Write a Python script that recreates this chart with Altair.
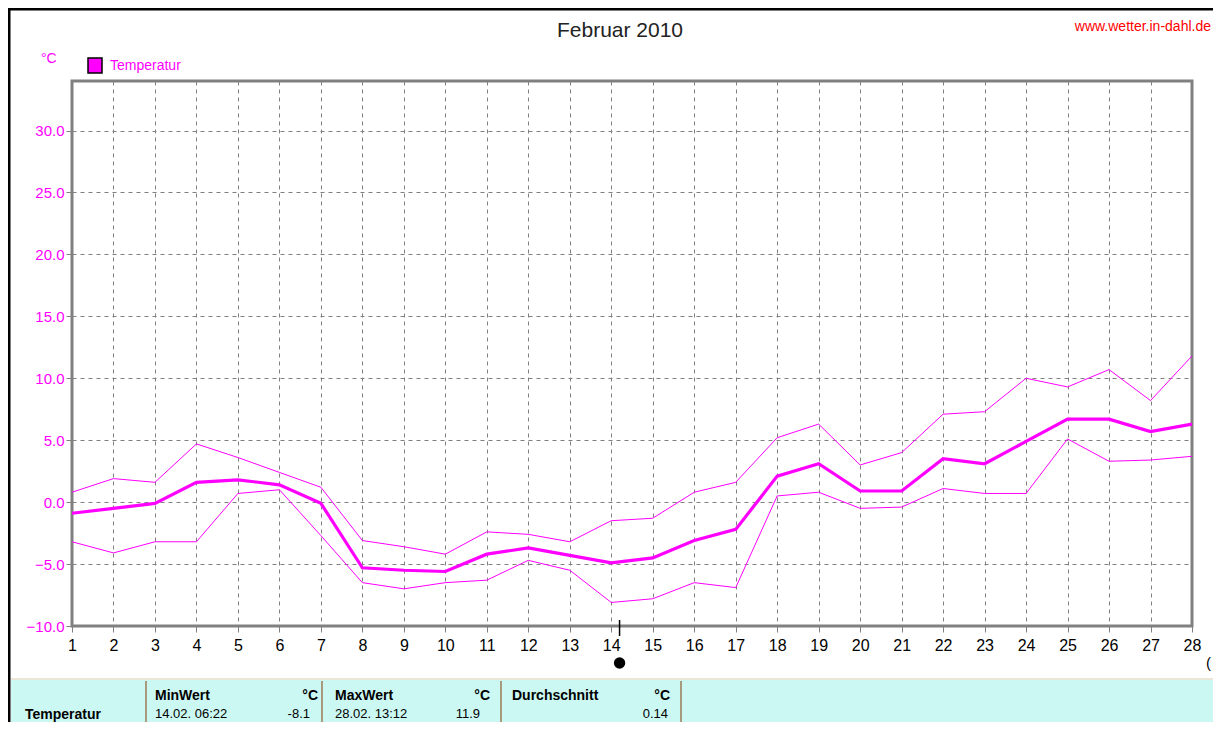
import altair as alt
import pandas as pd

# ---- data ----
days = list(range(1, 29))
t_max = [0.8, 1.9, 1.6, 4.7, 3.6, 2.4, 1.2, -3.1, -3.6, -4.2, -2.4, -2.6, -3.2, -1.5,
         -1.3, 0.8, 1.6, 5.2, 6.3, 3.0, 4.0, 7.1, 7.3, 10.0, 9.3, 10.7, 8.2, 11.8]
t_mean = [-0.9, -0.5, -0.1, 1.6, 1.8, 1.4, -0.1, -5.3, -5.5, -5.6, -4.2, -3.7, -4.3, -4.9,
          -4.5, -3.1, -2.2, 2.1, 3.1, 0.9, 0.9, 3.5, 3.1, 4.9, 6.7, 6.7, 5.7, 6.3]
t_min = [-3.2, -4.1, -3.2, -3.2, 0.7, 1.0, -2.7, -6.5, -7.0, -6.5, -6.3, -4.7, -5.5, -8.1,
         -7.8, -6.5, -6.9, 0.5, 0.8, -0.5, -0.4, 1.1, 0.7, 0.7, 5.1, 3.3, 3.4, 3.7]
y_ticks = [-10, -5, 0, 5, 10, 15, 20, 25, 30]
x_ticks = days
min_marker_day = [14.2]

table_headers = ["MinWert", "MaxWert", "Durchschnitt"]
table_units = ["°C", "°C", "°C"]
table_times = ["14.02.  06:22", "28.02.  13:12", ""]
table_values = ["-8.1", "11.9", "0.14"]
row_label = "Temperatur"

title_text = "Februar 2010"
url_text = "www.wetter.in-dahl.de"
legend_label = "Temperatur"
unit_label = "°C"

MAG = "#FF00FF"
W, H = 1120, 545
FONT = "Liberation Sans"

df = pd.DataFrame({"day": days, "max": t_max, "mean": t_mean, "min": t_min})

xs = alt.Scale(domain=[1, 28], nice=False, zero=False)
ys = alt.Scale(domain=[-10, 34], nice=False, zero=False)

xax = alt.Axis(values=x_ticks, format="d", grid=True, gridDash=[4, 4], gridColor="#808080",
               gridWidth=1, domain=False, tickColor="#808080", tickSize=6, labelColor="black",
               labelFontSize=16, labelFont=FONT, labelPadding=5, title=None, labelFlush=False)
yax = alt.Axis(values=y_ticks, format=".1f", grid=True, gridDash=[4, 4], gridColor="#808080",
               gridWidth=1, domain=False, tickColor="#808080", tickSize=6, labelColor=MAG,
               labelFontSize=15, labelFont=FONT, labelPadding=2, title=None)

base = alt.Chart(df)
grid = base.mark_line(opacity=0).encode(
    x=alt.X("day:Q", scale=xs, axis=xax),
    y=alt.Y("mean:Q", scale=ys, axis=yax))
l_max = base.mark_line(color=MAG, strokeWidth=1).encode(x=alt.X("day:Q", scale=xs), y=alt.Y("max:Q", scale=ys))
l_min = base.mark_line(color=MAG, strokeWidth=1).encode(x=alt.X("day:Q", scale=xs), y=alt.Y("min:Q", scale=ys))
l_mean = base.mark_line(color=MAG, strokeWidth=3.2).encode(x=alt.X("day:Q", scale=xs), y=alt.Y("mean:Q", scale=ys))

one = pd.DataFrame({"a": [0]})
def txt(text, x, y, size=14, color="black", align="left", weight="normal", font=FONT, baseline="middle"):
    return alt.Chart(one).mark_text(text=text, fontSize=size, color=color, align=align,
                                    fontWeight=weight, font=font, baseline=baseline).encode(
        x=alt.value(x), y=alt.value(y))

def rect(x, x2, y, y2, fill, stroke=None, sw=0):
    kw = dict(fill=fill)
    if stroke:
        kw.update(stroke=stroke, strokeWidth=sw)
    else:
        kw.update(strokeWidth=0)
    return alt.Chart(one).mark_rect(**kw).encode(
        x=alt.value(x), x2=alt.value(x2), y=alt.value(y), y2=alt.value(y2))

def rule(x, x2, y, y2, color, sw):
    return alt.Chart(one).mark_rule(color=color, strokeWidth=sw).encode(
        x=alt.value(x), x2=alt.value(x2), y=alt.value(y), y2=alt.value(y2))

layers = [grid, l_max, l_min, l_mean]

# outer black frame (left and top)
layers.append(rule(-63, -63, -73, 660, "black", 3))
layers.append(rule(-64, 1150, -72, -72, "black", 3))

# header texts
layers.append(txt(title_text, 548, -50, size=21, color="#222222", align="center"))
layers.append(txt(url_text, 1139, -54, size=14, color="#FF0000", align="right"))
layers.append(txt(unit_label, -31, -22, size=14, color=MAG))
layers.append(rect(16, 30, -23, -8, MAG, "black", 1.5))
layers.append(txt(legend_label, 38, -15, size=14, color=MAG))

# marker for min date
mk = pd.DataFrame({"d": min_marker_day})
layers.append(alt.Chart(mk).mark_rule(color="black", strokeWidth=1.5).encode(
    x=alt.X("d:Q", scale=xs), y=alt.value(539), y2=alt.value(555)))
layers.append(alt.Chart(mk).mark_point(filled=True, color="black", shape="circle", size=130, opacity=1).encode(
    x=alt.X("d:Q", scale=xs), y=alt.value(582)))
layers.append(txt("(", 1134, 582, size=15, color="black"))

# bottom table
layers.append(rect(-61, 1150, 598, 660, "#CCF8F4"))
layers.append(rule(-61, 1150, 598, 598, "#ECE6D8", 2))
seps = [74, 250, 429, 609]
for sx in seps:
    layers.append(rule(sx, sx, 600, 660, "#A89A7C", 2))
layers.append(txt(row_label, -47, 634, size=14, weight="bold"))
col_left = [83, 263, 440]
col_right = [246, 418, 598]
val_right = [238, 408, 596]
for i in range(3):
    layers.append(txt(table_headers[i], col_left[i], 615, size=14, weight="bold"))
    layers.append(txt(table_units[i], col_right[i], 615, size=14, weight="bold", align="right"))
    if table_times[i]:
        layers.append(txt(table_times[i], col_left[i], 633, size=13))
    layers.append(txt(table_values[i], val_right[i], 633, size=13, align="right"))

chart = alt.layer(*layers).properties(
    width=W, height=H,
    autosize=alt.AutoSizeParams(type="none"),
    padding={"left": 64, "top": 73, "right": 21, "bottom": 96},
    background="white",
).configure_view(stroke="#808080", strokeWidth=3)

chart.save("out.html", embed_options={"renderer": "svg", "actions": False})
